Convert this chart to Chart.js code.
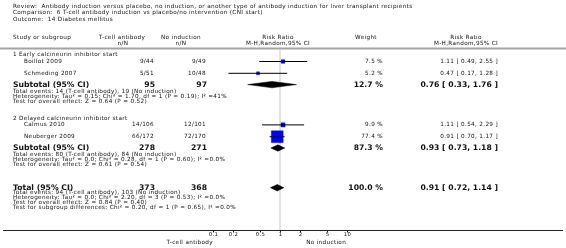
<!DOCTYPE html>
<html><head><meta charset="utf-8">
<script src="https://cdn.jsdelivr.net/npm/chart.js@4.4.1/dist/chart.umd.min.js"></script>
<style>html,body{margin:0;padding:0;background:#fff;overflow:hidden}#wrap{position:relative;width:566px;height:248px}</style>
</head><body><div id="wrap"><canvas id="c"></canvas></div>
<script>
// ---------------- data ----------------
const titleLines = [
  'Review:  Antibody induction versus placebo, no induction, or another type of antibody induction for liver transplant recipients',
  'Comparison:  6 T-cell antibody induction vs placebo/no intervention (CNI start)',
  'Outcome:  14 Diabetes mellitus'
];
const groupNames = ['1 Early calcineurin inhibitor start', '2 Delayed calcineurin inhibitor start'];
const studyNames = ['Boillot 2009', 'Schmeding 2007', 'Calmus 2010', 'Neuberger 2009'];
const studyGroup = [0, 0, 1, 1];
const expEvents = [9, 5, 14, 66];
const expTotal  = [44, 51, 106, 172];
const ctlEvents = [9, 10, 12, 72];
const ctlTotal  = [49, 48, 101, 170];
const studyWeight = [7.5, 5.2, 9.9, 77.4];
const studyRR = [1.11, 0.47, 1.11, 0.91];
const studyLo = [0.49, 0.17, 0.54, 0.70];
const studyHi = [2.55, 1.28, 2.29, 1.17];
const subExpTotal = [95, 278];
const subCtlTotal = [97, 271];
const subWeight = [12.7, 87.3];
const subRR = [0.76, 0.93];
const subLo = [0.33, 0.73];
const subHi = [1.76, 1.18];
const subNotes = [
  ['Total events: 14 (T-cell antibody), 19 (No induction)',
   'Heterogeneity: Tau\u00b2 = 0.15; Chi\u00b2 = 1.70, df = 1 (P = 0.19); I\u00b2 =41%',
   'Test for overall effect: Z = 0.64 (P = 0.52)'],
  ['Total events: 80 (T-cell antibody), 84 (No induction)',
   'Heterogeneity: Tau\u00b2 = 0.0; Chi\u00b2 = 0.28, df = 1 (P = 0.60); I\u00b2 =0.0%',
   'Test for overall effect: Z = 0.61 (P = 0.54)']
];
const totalExp = 373, totalCtl = 368, totalWeight = 100.0;
const totalRR = 0.91, totalLo = 0.72, totalHi = 1.14;
const totalNotes = [
  'Total events: 94 (T-cell antibody), 103 (No induction)',
  'Heterogeneity: Tau\u00b2 = 0.0; Chi\u00b2 = 2.20, df = 3 (P = 0.53); I\u00b2 =0.0%',
  'Test for overall effect: Z = 0.84 (P = 0.40)',
  'Test for subgroup differences: Chi\u00b2 = 0.20, df = 1 (P = 0.65), I\u00b2 =0.0%'
];
const tickValues = [0.1, 0.2, 0.5, 1, 2, 5, 10];
const tickLabels = ['0.1', '0.2', '0.5', '1', '2', '5', '10'];
const leftAxisLabel = 'T-cell antibody';
const rightAxisLabel = 'No induction';

// ---------------- layout ----------------
const W = 566, H = 248;
const PLOT_L = 213, PLOT_R = 347, AXIS_Y = 230;
const FF = '"DejaVu Sans", Verdana, sans-serif';
const FS = 5.7, LS = 0.33, FB = 7.7;
const COL = { left: 13, study: 24, exp: 154, ctl: 206, weight: 383, rr: 498 };

const rowPos = { groups: [], studies: [], subs: [], subNotes: [], total: 0, totalNotes: [] };
(function () {
  let y = 55;
  for (let g = 0; g < groupNames.length; g++) {
    rowPos.groups[g] = y;
    y += 6.5;
    const idx = studyNames.map((_, i) => i).filter(i => studyGroup[i] === g);
    idx.forEach((i, k) => { rowPos.studies[i] = y; if (k < idx.length - 1) y += 11.8; });
    y += 11.3; rowPos.subs[g] = y;
    y += 6.5; rowPos.subNotes[g] = [];
    subNotes[g].forEach((_, k) => { rowPos.subNotes[g].push(y); if (k < subNotes[g].length - 1) y += 5; });
    if (g < groupNames.length - 1) y += 17.3;
  }
  y += 23.2; rowPos.total = y;
  y += 4.8;
  totalNotes.forEach((_, k) => { rowPos.totalNotes.push(y); y += 5; });
})();

const DIAMOND_H = 3.2;
function diamond(lo, est, hi, y) {
  return [{x: lo, y: y}, {x: est, y: y - DIAMOND_H}, {x: hi, y: y}, {x: est, y: y + DIAMOND_H}, {x: lo, y: y}];
}

const datasets = [];
studyNames.forEach((n, i) => {
  datasets.push({ label: n + ' CI', data: [{x: studyLo[i], y: rowPos.studies[i]}, {x: studyHi[i], y: rowPos.studies[i]}],
    showLine: true, borderColor: '#000', borderWidth: 1, pointRadius: 0, fill: false });
});
datasets.push({ label: 'studies', data: studyNames.map((n, i) => ({x: studyRR[i], y: rowPos.studies[i]})),
  pointStyle: 'rect', pointRadius: studyWeight.map(w => 1.364 * Math.sqrt(w) / Math.SQRT2),
  backgroundColor: '#0000ff', borderColor: '#0000d0', borderWidth: 0.3, showLine: false });
subRR.forEach((r, g) => {
  datasets.push({ label: 'sub' + g, data: diamond(subLo[g], r, subHi[g], rowPos.subs[g]),
    showLine: true, fill: 'shape', backgroundColor: '#000', borderColor: '#000', borderWidth: 0.5, pointRadius: 0, tension: 0 });
});
datasets.push({ label: 'total', data: diamond(totalLo, totalRR, totalHi, rowPos.total),
  showLine: true, fill: 'shape', backgroundColor: '#000', borderColor: '#000', borderWidth: 0.5, pointRadius: 0, tension: 0 });

function txt(ctx, s, x, y, align, size, bold) {
  ctx.font = (bold ? 'bold ' : '') + size + 'px ' + FF;
  ctx.letterSpacing = bold ? '0px' : LS + 'px';
  ctx.textAlign = align;
  ctx.textBaseline = 'middle';
  ctx.fillText(s, x, y);
}
const fmt2 = v => v.toFixed(2);
const ciText = (r, l, h) => fmt2(r) + ' [ ' + fmt2(l) + ', ' + fmt2(h) + ' ]';

const forestPlugin = {
  id: 'forest',
  beforeDatasetsDraw(chart) {
    const { ctx, scales: { x, y } } = chart;
    ctx.save();
    ctx.fillStyle = '#a3a3a3';
    ctx.fillRect(0, 47.5, W, 2);
    const x1 = x.getPixelForValue(1);
    ctx.strokeStyle = '#dadada'; ctx.lineWidth = 1.6;
    ctx.beginPath(); ctx.moveTo(x1, 49.5); ctx.lineTo(x1, y.getPixelForValue(AXIS_Y)); ctx.stroke();
    ctx.restore();
  },
  afterDatasetsDraw(chart) {
    const { ctx, scales: { x, y } } = chart;
    ctx.save();
    ctx.fillStyle = '#111';
    [6.5, 12.8, 19.1].forEach((ty, k) => txt(ctx, titleLines[k], COL.left, ty, 'left', FS, false));
    txt(ctx, 'Study or subgroup', COL.left, 37.5, 'left', FS, false);
    txt(ctx, 'T-cell antibody', 122, 37.5, 'center', FS, false);
    txt(ctx, 'n/N', 123, 43.5, 'center', FS, false);
    txt(ctx, 'No induction', 181, 37.5, 'center', FS, false);
    txt(ctx, 'n/N', 181, 43.5, 'center', FS, false);
    const pc = x.getPixelForValue(1);
    txt(ctx, 'Risk Ratio', pc - 2, 37.5, 'center', FS, false);
    txt(ctx, 'M-H,Random,95% CI', pc - 2, 43.5, 'center', FS, false);
    txt(ctx, 'Weight', 366, 37.5, 'center', FS, false);
    txt(ctx, 'Risk Ratio', 466, 37.5, 'center', FS, false);
    txt(ctx, 'M-H,Random,95% CI', 466, 43.5, 'center', FS, false);
    groupNames.forEach((g, gi) => {
      const gy = y.getPixelForValue(rowPos.groups[gi]);
      txt(ctx, g, COL.left, gy, 'left', FS, false);
      const sy = y.getPixelForValue(rowPos.subs[gi]);
      txt(ctx, 'Subtotal (95% CI)', COL.left, sy, 'left', FB, true);
      txt(ctx, String(subExpTotal[gi]), COL.exp + 1, sy, 'right', FB, true);
      txt(ctx, String(subCtlTotal[gi]), COL.ctl + 1, sy, 'right', FB, true);
      txt(ctx, subWeight[gi].toFixed(1) + ' %', COL.weight, sy, 'right', FB, true);
      txt(ctx, ciText(subRR[gi], subLo[gi], subHi[gi]), COL.rr, sy, 'right', FB, true);
      subNotes[gi].forEach((n, k) => txt(ctx, n, COL.left, y.getPixelForValue(rowPos.subNotes[gi][k]), 'left', FS, false));
    });
    studyNames.forEach((n, i) => {
      const sy = y.getPixelForValue(rowPos.studies[i]);
      txt(ctx, n, COL.study, sy, 'left', FS, false);
      txt(ctx, expEvents[i] + '/' + expTotal[i], COL.exp, sy, 'right', FS, false);
      txt(ctx, ctlEvents[i] + '/' + ctlTotal[i], COL.ctl, sy, 'right', FS, false);
      txt(ctx, studyWeight[i].toFixed(1) + ' %', COL.weight, sy, 'right', FS, false);
      txt(ctx, ciText(studyRR[i], studyLo[i], studyHi[i]), COL.rr, sy, 'right', FS, false);
    });
    const ty = y.getPixelForValue(rowPos.total);
    txt(ctx, 'Total (95% CI)', COL.left, ty, 'left', FB, true);
    txt(ctx, String(totalExp), COL.exp + 1, ty, 'right', FB, true);
    txt(ctx, String(totalCtl), COL.ctl + 1, ty, 'right', FB, true);
    txt(ctx, totalWeight.toFixed(1) + ' %', COL.weight, ty, 'right', FB, true);
    txt(ctx, ciText(totalRR, totalLo, totalHi), COL.rr, ty, 'right', FB, true);
    totalNotes.forEach((n, k) => txt(ctx, n, COL.left, y.getPixelForValue(rowPos.totalNotes[k]), 'left', FS, false));
    const ay = Math.round(y.getPixelForValue(AXIS_Y)) + 0.5;
    ctx.strokeStyle = '#222'; ctx.lineWidth = 1;
    ctx.beginPath(); ctx.moveTo(3, ay); ctx.lineTo(563, ay); ctx.stroke();
    tickValues.forEach((v, k) => {
      const tx = Math.round(x.getPixelForValue(v)) + 0.5;
      ctx.beginPath(); ctx.moveTo(tx, ay); ctx.lineTo(tx, ay + 2); ctx.stroke();
      txt(ctx, tickLabels[k], tx, ay + 4.5, 'center', 5.3, false);
    });
    txt(ctx, leftAxisLabel, x.getPixelForValue(0.1), ay + 12, 'right', FS, false);
    txt(ctx, rightAxisLabel, x.getPixelForValue(2) + 6, ay + 12, 'left', FS, false);
    ctx.restore();
  }
};

new Chart(document.getElementById('c'), {
  type: 'scatter',
  data: { datasets },
  options: {
    responsive: true, maintainAspectRatio: false, animation: false, devicePixelRatio: 1,
    layout: { autoPadding: false, padding: { left: PLOT_L, right: W - PLOT_R, top: 0, bottom: H - AXIS_Y } },
    plugins: { legend: { display: false }, tooltip: { enabled: false } },
    scales: {
      x: { type: 'logarithmic', min: 0.1, max: 10, display: false },
      y: { type: 'linear', min: 0, max: AXIS_Y, reverse: true, display: false }
    }
  },
  plugins: [forestPlugin]
});
</script></body></html>
